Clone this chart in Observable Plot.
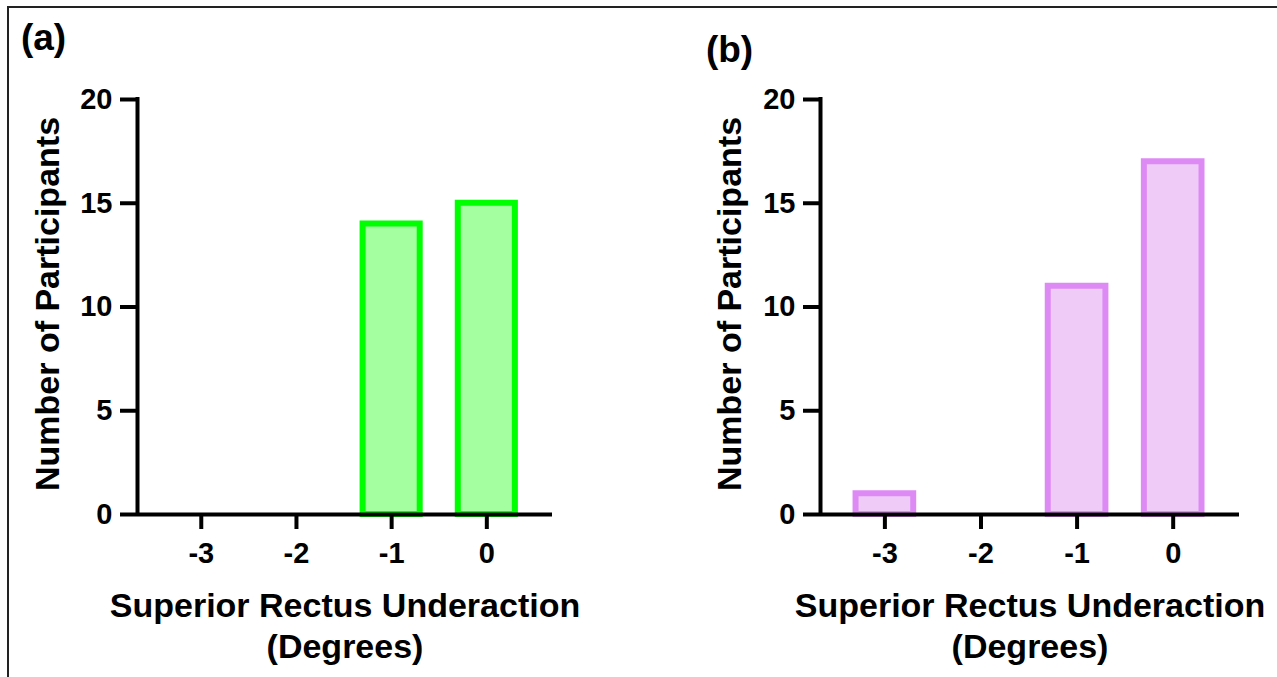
<!DOCTYPE html>
<html>
<head>
<meta charset="utf-8">
<script src="https://cdn.jsdelivr.net/npm/d3@7"></script>
<script src="https://cdn.jsdelivr.net/npm/@observablehq/plot@0.6"></script>
<style>
  html, body { margin: 0; padding: 0; background: #fff; }
  #wrap { position: relative; width: 1277px; height: 677px; overflow: hidden; background: #fff; }
  #border { position: absolute; left: 7px; top: 6px; right: -10px; bottom: -10px; border-top: 2px solid #222; border-left: 2px solid #222; }
  .panel { position: absolute; top: 0; }
</style>
</head>
<body>
<div id="wrap"><div id="border"></div></div>
<script>
// Data
const degrees = [-3, -2, -1, 0];
const countsA = [0, 0, 14, 15];
const countsB = [1, 0, 11, 17];
const yTicks = [0, 5, 10, 15, 20];
const panelLabels = ["(a)", "(b)"];
const xTitle = ["Superior Rectus Underaction", "(Degrees)"];
const yTitle = "Number of Participants";

const xDomain = [-3.67, 0.69];
const yDomain = [0, 20];
const barHalf = 0.3;
const font = "'Liberation Sans', Arial, Helvetica, sans-serif";

function panel({counts, label, stroke, fill, left, width, marginLeft, marginRight, labelDx, labelDy, yLabelDx}) {
  const data = degrees.map((x, i) => ({x, count: counts[i]})).filter(d => d.count > 0);
  const svg = Plot.plot({
    width, height: 677,
    marginLeft, marginRight, marginTop: 99, marginBottom: 163,
    style: {fontFamily: font, fontWeight: "bold", fontSize: "29px", color: "#000", background: "transparent", overflow: "visible"},
    x: {type: "linear", domain: xDomain, axis: null},
    y: {domain: yDomain, axis: null},
    marks: [
      Plot.rect(data, {x1: d => d.x - barHalf, x2: d => d.x + barHalf, y1: 0, y2: "count", fill, stroke, strokeWidth: 6}),
      Plot.ruleX([xDomain[0]], {stroke: "#000", strokeWidth: 4, strokeLinecap: "square"}),
      Plot.ruleY([0], {stroke: "#000", strokeWidth: 4}),
      Plot.axisY({ticks: yTicks, tickSize: 17, tickPadding: 8, strokeWidth: 4, fontSize: 29, fontWeight: "bold", label: null, tickFormat: d => String(d)}),
      Plot.axisX({ticks: degrees, tickSize: 15, tickPadding: 13, strokeWidth: 4, fontSize: 29, fontWeight: "bold", label: null, tickFormat: d => String(d)}),
      Plot.text([yTitle], {text: d => d, frameAnchor: "left", rotate: -90, dx: yLabelDx, dy: -3, fontSize: 34, fontWeight: "bold", textAnchor: "middle", lineAnchor: "middle"}),
      Plot.text([xTitle[0]], {text: d => d, frameAnchor: "bottom", dy: 92, fontSize: 34, fontWeight: "bold", lineAnchor: "middle"}),
      Plot.text([xTitle[1]], {text: d => d, frameAnchor: "bottom", dy: 133, fontSize: 34, fontWeight: "bold", lineAnchor: "middle"}),
      Plot.text([label], {text: d => d, frameAnchor: "top-left", dx: labelDx, dy: labelDy, fontSize: 37, fontWeight: "bold", textAnchor: "middle", lineAnchor: "middle"})
    ]
  });
  svg.classList.add("panel");
  svg.style.left = left + "px";
  document.getElementById("wrap").appendChild(svg);
}

panel({counts: countsA, label: panelLabels[0], stroke: "#00ff00", fill: "#a3ff9f",
  left: 0, width: 638, marginLeft: 137, marginRight: 86, labelDx: -94, labelDy: -61, yLabelDx: -89});
panel({counts: countsB, label: panelLabels[1], stroke: "#de8af5", fill: "#efcbf7",
  left: 638, width: 639, marginLeft: 182, marginRight: 38, labelDx: -91, labelDy: -49, yLabelDx: -90});
</script>
</body>
</html>
